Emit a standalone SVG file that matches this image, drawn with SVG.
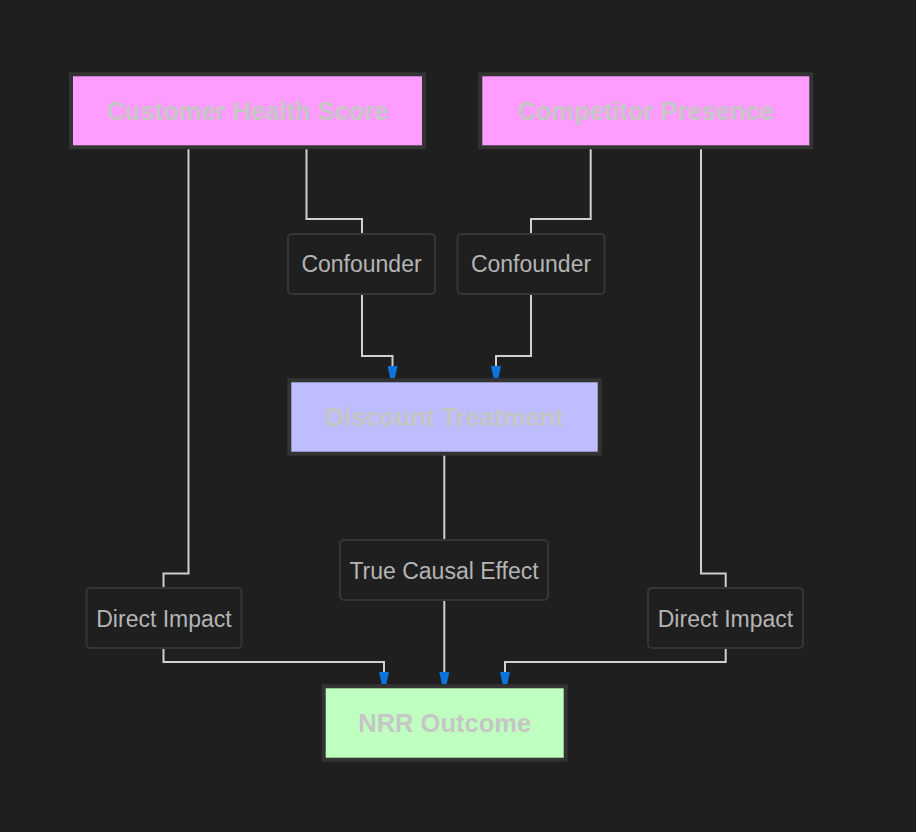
<svg xmlns="http://www.w3.org/2000/svg" width="916" height="832" viewBox="0 0 916 832">
<style>
.bg{fill:#1f1f1f}
.main{stroke:#333333;stroke-width:4}
.pink{fill:#ff9cff}
.lav{fill:#bdbdff}
.green{fill:#bfffbf}
.mtxt{font-family:"Liberation Sans",Arial,sans-serif;font-size:25.5px;font-weight:bold;fill:#c6c6c6;text-anchor:middle}
.lbl{fill:#1f1f1f;stroke:#363636;stroke-width:2}
.ltxt{font-family:"Liberation Sans",Arial,sans-serif;font-size:23px;fill:#b4b4b4;text-anchor:middle}
.edge{fill:none;stroke:#d0d0d0;stroke-width:2;marker-end:url(#arr)}
.edge0{fill:none;stroke:#d0d0d0;stroke-width:2}
</style>
<defs>
<marker id="arr" markerUnits="userSpaceOnUse" viewBox="0 0 12 10" refX="12" refY="5" markerWidth="12" markerHeight="10" orient="auto">
<path d="M0,0 L12,2.6 L12,7.4 L0,10 Z" fill="#0a74da"/>
</marker>
</defs>
<rect class="bg" x="0" y="0" width="916" height="832"/>
<g id="connectors">
<path class="edge0" d="M306.5,149 V219 H362 V233"/>
<path class="edge" d="M362,294 V356 H392.5 V378"/>
<path class="edge0" d="M590.7,149 V219 H531 V233"/>
<path class="edge" d="M531,294 V356 H496 V378"/>
<path class="edge0" d="M188.5,149 V573.5 H163.5 V587"/>
<path class="edge" d="M163.5,648 V662 H384 V684"/>
<path class="edge0" d="M444.3,455 V539"/>
<path class="edge" d="M444.3,601 V684"/>
<path class="edge0" d="M701,149 V573.5 H725.7 V587"/>
<path class="edge" d="M725.7,648 V662 H505 V684"/>
</g>
<g id="customer-health-score">
<rect class="main pink" x="71" y="74.3" width="353" height="73"/>
<text class="mtxt" x="247.5" y="120">Customer Health Score</text>
</g>
<g id="competitor-presence">
<rect class="main pink" x="480.3" y="74.3" width="331" height="73"/>
<text class="mtxt" x="645.8" y="120">Competitor Presence</text>
</g>
<g id="discount-treatment">
<rect class="main lav" x="289.3" y="380.3" width="310.4" height="73.4"/>
<text class="mtxt" x="444.5" y="425.5">Discount Treatment</text>
</g>
<g id="nrr-outcome">
<rect class="main green" x="323.7" y="686.3" width="242" height="73.4"/>
<text class="mtxt" x="444.7" y="731.5">NRR Outcome</text>
</g>
<g id="confounder-1">
<rect class="lbl" x="288" y="234" width="147" height="60" rx="4"/>
<text class="ltxt" x="361.5" y="272">Confounder</text>
</g>
<g id="confounder-2">
<rect class="lbl" x="457.5" y="234" width="147" height="60" rx="4"/>
<text class="ltxt" x="531" y="272">Confounder</text>
</g>
<g id="true-causal-effect">
<rect class="lbl" x="340" y="540" width="208" height="60" rx="4"/>
<text class="ltxt" x="444" y="578.5">True Causal Effect</text>
</g>
<g id="direct-impact-1">
<rect class="lbl" x="86.5" y="588" width="155" height="60" rx="4"/>
<text class="ltxt" x="164" y="626.5">Direct Impact</text>
</g>
<g id="direct-impact-2">
<rect class="lbl" x="648" y="588" width="155" height="60" rx="4"/>
<text class="ltxt" x="725.5" y="626.5">Direct Impact</text>
</g>
</svg>
